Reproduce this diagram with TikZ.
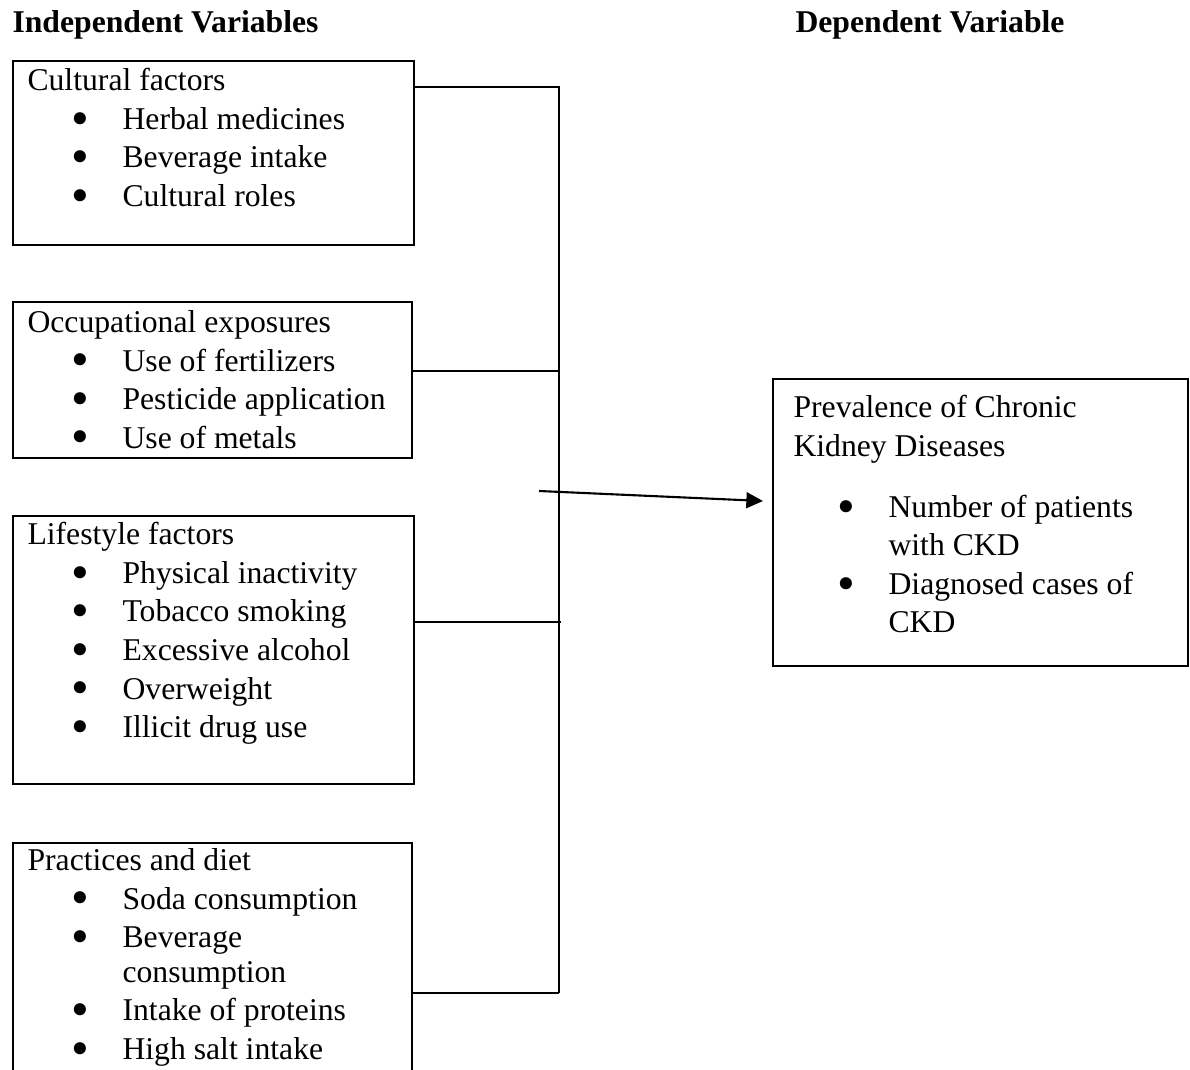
\documentclass[tikz,border=0pt]{standalone}
\usepackage{fontspec}
\setmainfont{Liberation Serif}
\usetikzlibrary{arrows.meta}

\newcommand{\itm}{\makebox[36pt][l]{\hspace{16.8pt}\smash{\raisebox{-2.2pt}{\scalebox{1.6}{\textbullet}}}}}
\newcommand{\cnt}{\hspace*{36pt}}

\tikzset{
  factor/.style={draw, line width=0.8pt, rectangle, anchor=north west, inner sep=0pt},
  factortext/.style={anchor=north west, align=left, inner sep=0pt,
                     font=\fontsize{12}{14.6}\selectfont},
  heading/.style={anchor=base west, inner sep=0pt, font=\fontsize{12}{14.6}\selectfont\bfseries},
  link/.style={line width=0.6pt},
}

\begin{document}
\begin{tikzpicture}[x=0.3788pt, y=-0.3788pt]
\clip (0,0) rectangle (1190,1070);

% headings
\node[heading] (indep) at (12,33) {Independent Variables};
\node[heading] (dep) at (795,33) {Dependent Variable};

% independent variables
\node[factor, minimum width=151.9pt, minimum height=69.7pt] (cult) at (12,60) {};
\node[factor, minimum width=151.1pt, minimum height=59.1pt] (occ) at (12,301) {};
\node[factor, minimum width=151.9pt, minimum height=101.5pt] (life) at (12,515) {};
\node[factor, minimum width=151.1pt, minimum height=98.5pt] (prac) at (12,842) {};

\node[factortext] (cult-t) at ([shift={(15,8)}]cult.north west)
  {Cultural factors\\ \itm Herbal medicines\\ \itm Beverage intake\\ \itm Cultural roles};
\node[factortext] (occ-t) at ([shift={(15,9)}]occ.north west)
  {Occupational exposures\\ \itm Use of fertilizers\\ \itm Pesticide application\\ \itm Use of metals};
\node[factortext] (life-t) at ([shift={(15,7)}]life.north west)
  {Lifestyle factors\\ \itm Physical inactivity\\ \itm Tobacco smoking\\ \itm Excessive alcohol\\
   \itm Overweight\\ \itm Illicit drug use};
\node[factortext] (prac-t) at ([shift={(15,6)}]prac.north west)
  {Practices and diet\\ \itm Soda consumption\\ \itm Beverage\\[-1.5pt] \cnt consumption\\
   \itm Intake of proteins\\ \itm High salt intake};

% dependent variable
\node[factor, minimum width=157.2pt, minimum height=108.7pt] (prev) at (772,378) {};
\node[factortext] (prev-t) at ([shift={(21,17)}]prev.north west)
  {Prevalence of Chronic\\ Kidney Diseases\\[8.5pt] \itm Number of patients\\ \cnt with CKD\\
   \itm Diagnosed cases of\\ \cnt CKD};

% connectors
\coordinate (j1) at (559,87);
\coordinate (j2) at (559,371);
\coordinate (j3) at (561,622);
\coordinate (j4) at (559,993);
\coordinate (src) at (539,491);
\coordinate (tip) at (763,501);
\draw[link] (cult.east |- j1) -- (j1) -- (j4);
\draw[link] (occ.east |- j2) -- (j2);
\draw[link] (life.east |- j3) -- (j3);
\draw[link] (prac.east |- j4) -- (j4);
\draw[link, line width=0.8pt, -{Triangle[length=6.3pt, width=6pt]}] (src) -- (tip);
\end{tikzpicture}
\end{document}
